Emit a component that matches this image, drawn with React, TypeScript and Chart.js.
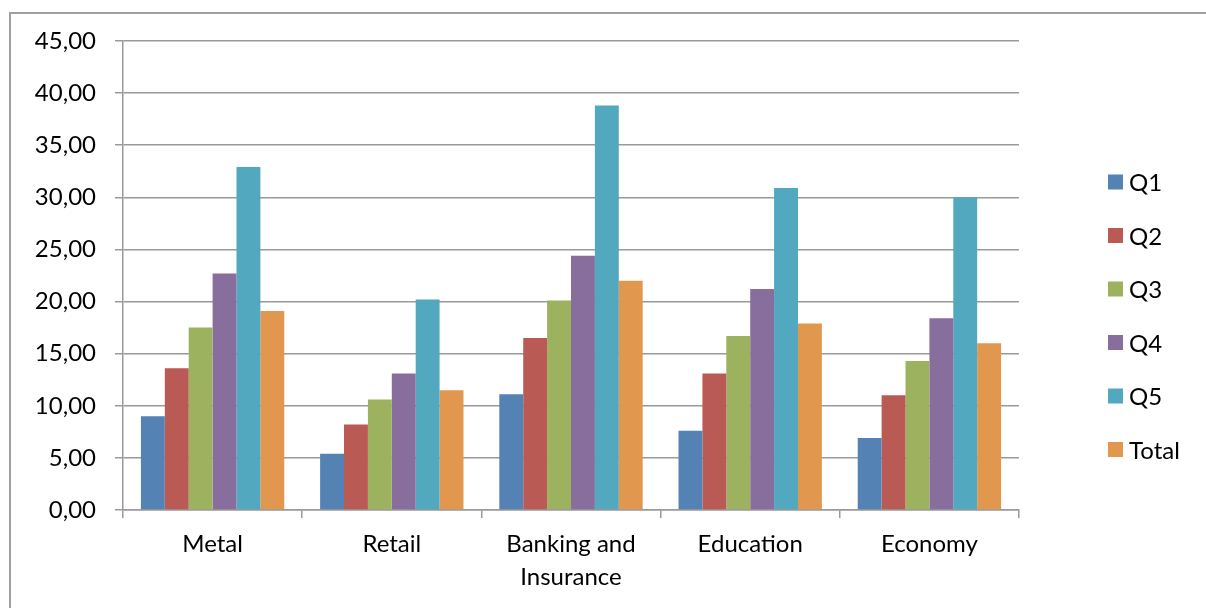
import React, { useEffect, useRef } from "react";
import { Chart, registerables } from "chart.js";

Chart.register(...registerables);

const categories: (string | string[])[] = ["Metal", "Retail", ["Banking and", "Insurance"], "Education", "Economy"];
const seriesNames = ["Q1", "Q2", "Q3", "Q4", "Q5", "Total"];
const q1 = [9.0, 5.4, 11.1, 7.6, 6.9];
const q2 = [13.6, 8.2, 16.5, 13.1, 11.0];
const q3 = [17.5, 10.6, 20.1, 16.7, 14.3];
const q4 = [22.7, 13.1, 24.4, 21.2, 18.4];
const q5 = [32.9, 20.2, 38.8, 30.9, 30.0];
const total = [19.1, 11.5, 22.0, 17.9, 16.0];
const seriesColors = ["#5482B4", "#BA5A55", "#9CB25F", "#876E9D", "#51A8BF", "#E2974F"];
const yTicks = { min: 0, max: 45, step: 5 };

const FONT = "Lato, 'Open Sans', sans-serif";
const FONT_SIZE = 24;
const GRID = "#9a9a9a";

const legendPlugin = {
  id: "customLegend",
  afterDraw(chart: any) {
    const ctx = chart.ctx;
    ctx.save();
    chart.data.datasets.forEach((ds: any, i: number) => {
      const top = 174.5 + i * 53.5;
      ctx.fillStyle = ds.backgroundColor;
      ctx.fillRect(1108, top, 15, 15);
      ctx.fillStyle = "#000";
      ctx.font = `${FONT_SIZE}px ${FONT}`;
      ctx.textBaseline = "middle";
      ctx.textAlign = "left";
      ctx.fillText(ds.label, 1129, top + 9);
    });
    ctx.restore();
  },
};

export default function App() {
  const ref = useRef<HTMLCanvasElement>(null);
  useEffect(() => {
    if (!ref.current) return;
    const data = [q1, q2, q3, q4, q5, total];
    const chart = new Chart(ref.current, {
      type: "bar",
      data: {
        labels: categories,
        datasets: seriesNames.map((name, i) => ({
          label: name,
          data: data[i],
          backgroundColor: seriesColors[i],
          borderWidth: 0,
          categoryPercentage: 0.8,
          barPercentage: 1.0,
        })),
      },
      options: {
        responsive: false,
        animation: false,
        layout: { padding: { top: 41, right: 187, bottom: 0, left: 0 } },
        plugins: { legend: { display: false }, tooltip: { enabled: false } },
        scales: {
          x: {
            afterFit: (s: any) => {
              s.height = 98;
            },
            grid: {
              drawOnChartArea: false,
              drawTicks: true,
              tickLength: 8,
              color: GRID,
              lineWidth: 1.5,
              offset: true,
            },
            border: { display: true, color: GRID, width: 1.5 },
            ticks: {
              color: "#000",
              padding: 10,
              font: { family: FONT, size: FONT_SIZE, lineHeight: 1.36 },
              maxRotation: 0,
              autoSkip: false,
            },
          },
          y: {
            min: yTicks.min,
            max: yTicks.max,
            afterFit: (s: any) => {
              s.width = 123;
            },
            grid: { color: GRID, lineWidth: 1.5, tickLength: 8, drawTicks: true },
            border: { display: true, color: GRID, width: 1.5 },
            ticks: {
              stepSize: yTicks.step,
              color: "#000",
              padding: 19,
              font: { family: FONT, size: FONT_SIZE },
              callback: (v: any) => Number(v).toFixed(2).replace(".", ","),
            },
          },
        },
      },
      plugins: [legendPlugin],
    });
    return () => chart.destroy();
  }, []);
  return (
    <div style={{ position: "fixed", left: 0, top: 0, width: 1206, height: 608, overflow: "hidden", background: "#fff" }}>
      <div
        style={{
          position: "absolute",
          left: 9,
          top: 12,
          width: 1400,
          height: 800,
          border: "2px solid #a0a0a0",
        }}
      />
      <canvas ref={ref} width={1206} height={608} style={{ position: "absolute", left: 0, top: 0, display: "block" }} />
    </div>
  );
}
